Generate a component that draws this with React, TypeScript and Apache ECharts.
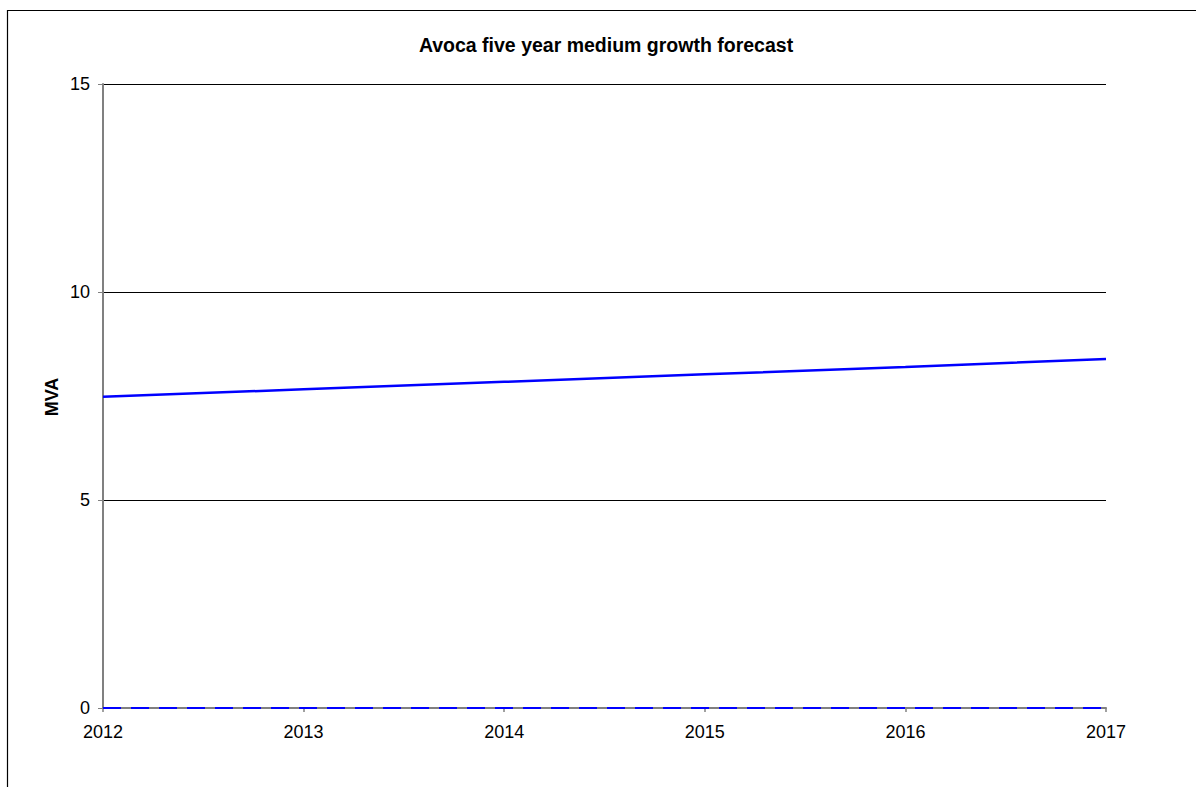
import React, { useEffect, useRef } from "react";
import * as echarts from "echarts";

const years = ["2012", "2013", "2014", "2015", "2016", "2017"];
const mediumGrowth = [7.48, 7.66, 7.84, 8.02, 8.2, 8.39];
const baseline = [0, 0, 0, 0, 0, 0];
const yTicks = { min: 0, max: 15, interval: 5 };
const titleText = "Avoca five year medium growth forecast";
const yName = "MVA";

const FONT = 'Arial, "Liberation Sans", sans-serif';

export default function App() {
  const ref = useRef<HTMLDivElement>(null);
  useEffect(() => {
    if (!ref.current) return;
    const chart = echarts.init(ref.current, null, { renderer: "svg" });
    chart.setOption({
      animation: false,
      backgroundColor: "#ffffff",
      title: {
        text: titleText,
        left: 606,
        top: 35,
        textAlign: "center",
        padding: 0,
        textStyle: { fontFamily: FONT, fontSize: 19.5, fontWeight: "bold", color: "#000" },
      },
      graphic: [
        {
          type: "rect",
          shape: { x: 7.5, y: 10.5, width: 1400, height: 1000 },
          style: { fill: "none", stroke: "#000", lineWidth: 1.2 },
          silent: true,
        },
        {
          type: "text",
          x: 52,
          y: 397,
          rotation: Math.PI / 2,
          style: {
            text: yName,
            fontFamily: FONT,
            fontSize: 18,
            fontWeight: "bold",
            fill: "#000",
            align: "center",
            verticalAlign: "middle",
          },
        },
      ],
      grid: { left: 103, top: 84, right: 90, bottom: 79, containLabel: false },
      xAxis: {
        type: "category",
        data: years,
        boundaryGap: false,
        axisLine: { show: true, lineStyle: { color: "#808080", width: 2 } },
        axisTick: { show: true, inside: false, length: 4, lineStyle: { color: "#808080", width: 1.5 } },
        axisLabel: { margin: 15, fontFamily: FONT, fontSize: 18, color: "#000" },
        splitLine: { show: false },
      },
      yAxis: {
        type: "value",
        min: yTicks.min,
        max: yTicks.max,
        interval: yTicks.interval,
        axisLine: { show: true, lineStyle: { color: "#808080", width: 2 } },
        axisTick: { show: true, inside: false, length: 5, lineStyle: { color: "#808080", width: 1 } },
        axisLabel: { margin: 13, fontFamily: FONT, fontSize: 18, color: "#000" },
        splitLine: { show: true, lineStyle: { color: "#000", width: 1 } },
      },
      series: [
        {
          type: "line",
          data: mediumGrowth,
          symbol: "none",
          lineStyle: { color: "#0000ff", width: 2.5 },
          z: 5,
        },
        {
          type: "line",
          data: baseline,
          symbol: "none",
          lineStyle: { color: "#0000ff", width: 2, type: [18, 10] },
          z: 6,
        },
      ],
    });
    return () => chart.dispose();
  }, []);
  return (
    <div
      ref={ref}
      style={{ position: "absolute", left: 0, top: 0, width: 1196, height: 787, background: "#fff" }}
    />
  );
}
